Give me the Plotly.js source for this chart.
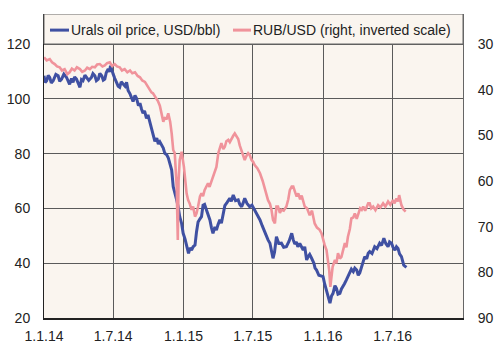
<!DOCTYPE html>
<html>
<head>
<meta charset="utf-8">
<script src="https://cdn.plot.ly/plotly-3.0.1.min.js"></script>
<style>
  html, body { margin: 0; padding: 0; background: #ffffff; }
  #chart { width: 504px; height: 355px; }
</style>
</head>
<body>
<div id="chart"></div>
<script>
// ---- Data ----
const oilDates = [
  '2014-01-01','2014-01-04','2014-01-08','2014-01-12','2014-01-16','2014-01-20','2014-01-25','2014-02-01',
  '2014-02-07','2014-02-11','2014-02-16','2014-02-22','2014-03-01','2014-03-09','2014-03-14','2014-03-18',
  '2014-03-22','2014-03-27','2014-04-01','2014-04-05','2014-04-09','2014-04-13','2014-04-18','2014-04-22',
  '2014-04-28','2014-05-05','2014-05-09','2014-05-14','2014-05-18','2014-05-23','2014-05-27','2014-06-01',
  '2014-06-05','2014-06-09','2014-06-13','2014-06-18','2014-06-21','2014-06-24','2014-06-27','2014-07-01',
  '2014-07-05','2014-07-10','2014-07-14','2014-07-18','2014-07-22','2014-07-27','2014-08-01','2014-08-05',
  '2014-08-09','2014-08-14','2014-08-18','2014-08-22','2014-08-27','2014-08-31','2014-09-05','2014-09-09',
  '2014-09-13','2014-09-17','2014-09-21','2014-09-26','2014-09-30','2014-10-04','2014-10-09','2014-10-14',
  '2014-10-18','2014-10-23','2014-10-27','2014-10-31','2014-11-04','2014-11-09','2014-11-13','2014-11-18',
  '2014-11-22','2014-11-26','2014-12-01','2014-12-05','2014-12-09','2014-12-14','2014-12-18','2014-12-22',
  '2014-12-27','2014-12-31','2015-01-05','2015-01-09','2015-01-14','2015-01-18','2015-01-22','2015-01-26',
  '2015-01-31','2015-02-04','2015-02-08','2015-02-13','2015-02-17','2015-02-21','2015-02-25','2015-03-02',
  '2015-03-06','2015-03-11','2015-03-15','2015-03-19','2015-03-24','2015-03-28','2015-04-01','2015-04-06',
  '2015-04-10','2015-04-15','2015-04-19','2015-04-25','2015-05-02','2015-05-06','2015-05-11','2015-05-17',
  '2015-05-24','2015-05-28','2015-06-02','2015-06-06','2015-06-10','2015-06-16','2015-06-23','2015-06-29',
  '2015-07-06','2015-07-13','2015-07-20','2015-07-26','2015-08-02','2015-08-06','2015-08-10','2015-08-15',
  '2015-08-19','2015-08-23','2015-08-27','2015-09-01','2015-09-07','2015-09-14','2015-09-20','2015-09-27',
  '2015-10-04','2015-10-11','2015-10-15','2015-10-19','2015-10-23','2015-10-27','2015-11-01','2015-11-06',
  '2015-11-10','2015-11-14','2015-11-19','2015-11-23','2015-11-27','2015-12-02','2015-12-08','2015-12-11',
  '2015-12-15','2015-12-21','2015-12-28','2016-01-01','2016-01-05','2016-01-10','2016-01-14','2016-01-19',
  '2016-01-23','2016-01-27','2016-02-01','2016-02-05','2016-02-09','2016-02-14','2016-02-18','2016-02-22',
  '2016-02-26','2016-03-02','2016-03-06','2016-03-11','2016-03-15','2016-03-20','2016-03-24','2016-03-29',
  '2016-04-02','2016-04-06','2016-04-11','2016-04-15','2016-04-19','2016-04-24','2016-04-28','2016-05-02',
  '2016-05-08','2016-05-15','2016-05-21','2016-05-28','2016-06-02','2016-06-08','2016-06-13','2016-06-19',
  '2016-06-23','2016-06-28','2016-07-02','2016-07-07','2016-07-11','2016-07-15','2016-07-19','2016-07-24',
  '2016-07-30','2016-08-06'
];
const oilPrice = [
  108.4,106.0,106.6,108.5,107.8,105.8,106.6,108.9,
  108.4,106.4,107.2,109.0,107.8,105.3,107.4,106.0,
  108.0,107.2,105.5,104.2,107.0,106.6,108.6,107.8,
  106.7,107.8,109.2,108.4,106.6,107.2,109.3,108.4,
  106.8,107.2,109.6,110.9,109.8,112.1,110.5,109.0,
  107.5,106.0,104.6,104.2,106.2,105.4,104.6,106.0,
  103.0,101.8,100.0,99.0,101.2,100.2,97.5,98.4,
  96.3,94.7,95.6,92.9,94.1,91.8,89.8,87.0,
  84.5,85.6,83.5,84.3,83.2,82.0,80.1,79.6,
  78.5,76.5,74.0,67.9,66.0,63.1,60.5,57.0,
  54.5,50.9,48.8,46.5,43.6,45.6,44.8,46.0,
  46.6,51.5,55.0,56.2,57.0,61.2,61.5,59.4,
  57.8,55.8,53.0,50.9,53.2,52.1,54.0,55.8,
  54.6,58.5,61.0,62.2,63.7,62.6,64.9,62.8,
  63.1,61.5,60.6,62.0,63.7,61.8,60.6,61.2,
  59.4,57.9,55.8,53.6,50.9,49.5,48.5,47.3,
  44.5,41.8,44.0,49.7,47.2,47.3,45.8,46.0,
  48.0,50.9,48.5,47.0,47.8,46.0,47.2,46.0,
  44.8,46.0,41.2,42.4,43.2,41.8,40.0,38.2,
  37.5,35.6,35.1,35.1,32.5,29.6,28.0,25.4,
  28.0,29.0,31.8,30.8,28.7,29.0,30.6,31.4,
  32.5,33.9,35.2,36.3,37.8,36.9,38.2,37.5,
  35.6,36.5,39.0,41.2,42.4,41.6,43.6,44.2,
  43.5,46.0,45.3,47.3,46.5,49.1,47.2,46.0,
  47.8,47.3,45.8,44.8,46.0,45.4,43.4,42.4,
  39.3,38.5
];

const rubDates = [
  '2014-01-01','2014-01-08','2014-01-16','2014-01-22','2014-01-29','2014-02-04','2014-02-11','2014-02-17',
  '2014-02-24','2014-03-03','2014-03-09','2014-03-15','2014-03-22','2014-03-28','2014-04-05','2014-04-11',
  '2014-04-18','2014-04-24','2014-05-01','2014-05-07','2014-05-14','2014-05-20','2014-05-27','2014-06-03',
  '2014-06-09','2014-06-15','2014-06-22','2014-06-28','2014-07-05','2014-07-11','2014-07-18','2014-07-24',
  '2014-07-31','2014-08-07','2014-08-14','2014-08-20','2014-08-27','2014-09-03','2014-09-09','2014-09-15',
  '2014-09-22','2014-09-28','2014-10-05','2014-10-09','2014-10-13','2014-10-17','2014-10-22','2014-10-26',
  '2014-10-31','2014-11-04','2014-11-09','2014-11-13','2014-11-18','2014-11-22','2014-11-27','2014-12-01',
  '2014-12-05','2014-12-09','2014-12-14','2014-12-17','2014-12-19','2014-12-22','2014-12-27','2015-01-02',
  '2015-01-06','2015-01-09','2015-01-13','2015-01-17','2015-01-22','2015-01-26','2015-01-31','2015-02-04',
  '2015-02-08','2015-02-13','2015-02-17','2015-02-21','2015-02-25','2015-03-02','2015-03-06','2015-03-10',
  '2015-03-15','2015-03-20','2015-03-24','2015-03-28','2015-04-02','2015-04-06','2015-04-10','2015-04-15',
  '2015-04-19','2015-04-23','2015-04-28','2015-05-02','2015-05-07','2015-05-11','2015-05-15','2015-05-20',
  '2015-05-24','2015-05-28','2015-06-02','2015-06-06','2015-06-10','2015-06-14','2015-06-19','2015-06-23',
  '2015-06-28','2015-07-02','2015-07-06','2015-07-13','2015-07-20','2015-07-27','2015-08-02','2015-08-06',
  '2015-08-10','2015-08-15','2015-08-19','2015-08-23','2015-08-28','2015-09-01','2015-09-05','2015-09-10',
  '2015-09-14','2015-09-20','2015-09-27','2015-10-02','2015-10-06','2015-10-11','2015-10-15','2015-10-20',
  '2015-10-24','2015-10-28','2015-11-02','2015-11-06','2015-11-10','2015-11-14','2015-11-20','2015-11-27',
  '2015-12-03','2015-12-10','2015-12-16','2015-12-23','2015-12-28','2016-01-01','2016-01-05','2016-01-10',
  '2016-01-14','2016-01-17','2016-01-20','2016-01-23','2016-01-26','2016-02-01','2016-02-05','2016-02-09',
  '2016-02-14','2016-02-18','2016-02-23','2016-02-27','2016-03-02','2016-03-06','2016-03-11','2016-03-15',
  '2016-03-20','2016-03-24','2016-03-29','2016-04-02','2016-04-07','2016-04-11','2016-04-15','2016-04-20',
  '2016-04-24','2016-04-28','2016-05-02','2016-05-06','2016-05-11','2016-05-17','2016-05-24','2016-05-30',
  '2016-06-06','2016-06-12','2016-06-19','2016-06-25','2016-07-02','2016-07-06','2016-07-11','2016-07-15',
  '2016-07-18','2016-07-24','2016-07-30','2016-08-04'
];
const rubUsd = [
  32.9,33.6,33.3,34.0,34.4,34.9,35.1,35.8,
  35.5,36.6,36.2,35.4,35.8,35.1,35.5,36.1,
  35.8,35.2,35.5,35.0,35.1,34.5,34.4,34.9,
  34.7,34.2,34.0,34.8,34.4,34.9,35.1,35.8,
  35.5,36.2,35.8,36.4,36.2,37.0,37.3,38.0,
  38.3,39.2,40.1,40.6,40.8,41.3,41.8,42.5,
  43.5,44.8,47.0,46.2,46.3,45.2,47.0,49.6,
  53.2,53.9,61.2,72.9,60.0,55.4,53.6,56.9,
  60.5,62.7,64.2,64.9,66.3,65.6,67.8,67.1,
  65.6,63.4,62.7,63.3,62.0,61.2,60.5,61.3,
  60.0,58.5,57.6,56.9,53.9,52.8,51.7,53.0,
  52.5,51.3,51.0,51.5,50.5,50.1,49.6,50.2,
  50.8,52.2,53.5,54.8,55.4,54.6,53.9,54.3,
  55.4,55.8,56.5,57.2,58.3,60.0,62.0,63.2,
  64.2,65.0,66.3,68.5,69.3,65.6,65.6,67.0,
  66.3,66.5,65.6,64.0,62.0,61.2,61.2,62.5,
  63.4,62.7,64.0,63.2,64.5,65.6,66.0,67.5,
  66.5,69.3,70.2,70.7,71.5,72.9,74.0,75.1,
  77.5,79.5,83.2,80.5,78.8,77.3,78.0,75.8,
  77.0,76.6,75.0,73.6,74.5,72.2,70.5,68.2,
  68.0,67.1,68.3,67.4,66.0,66.3,65.6,66.5,
  65.6,64.9,64.9,66.0,65.6,66.4,65.3,65.8,
  64.9,65.6,64.5,65.2,64.2,64.9,63.8,64.5,
  63.1,65.3,66.3,66.7
];

const xTickVals = ['2014-01-01','2014-07-01','2015-01-01','2015-07-01','2016-01-01','2016-07-01','2017-01-01'];
const xTickText = ['1.1.14','1.7.14','1.1.15','1.7.15','1.1.16','1.7.16',''];
const leftTicks = [20, 40, 60, 80, 100, 120];
const rightTicks = [30, 40, 50, 60, 70, 80, 90];

const seriesNames = ['Urals oil price, USD/bbl)', 'RUB/USD (right, inverted scale)'];
const seriesColors = ['#3f50a2', '#f0939b'];

// ---- Styling / layout ----
const FONT = 'Liberation Sans, Arial, sans-serif';
const BG = '#faf5ef';
const GRID = '#5a5a5a';
const yTop = 20 + 100 * 304 / 274;         // range top so 120 sits at legend box bottom
const y2Top = 90 - 60 * 304 / 274;         // same for the inverted right axis

const traces = [
  {
    x: oilDates, y: oilPrice, name: seriesNames[0], type: 'scatter', mode: 'lines',
    line: { color: seriesColors[0], width: 3 }, yaxis: 'y'
  },
  {
    x: rubDates, y: rubUsd, name: seriesNames[1], type: 'scatter', mode: 'lines',
    line: { color: seriesColors[1], width: 2.6 }, yaxis: 'y2'
  }
];

// legend box drawn by hand (short line samples, text as annotations)
const legY = 0.947;
const px = v => (v - 44) / 419;

const layout = {
  width: 504, height: 355,
  margin: { l: 44, r: 41, t: 14, b: 37, pad: 0 },
  paper_bgcolor: '#ffffff',
  plot_bgcolor: BG,
  font: { family: FONT, size: 14, color: '#222222' },
  showlegend: false,
  xaxis: {
    type: 'date',
    range: ['2014-01-01', '2017-01-01'],
    tickmode: 'array', tickvals: xTickVals, ticktext: xTickText,
    showgrid: true, gridcolor: GRID, gridwidth: 1,
    ticks: 'outside', ticklen: 4, tickcolor: 'rgba(0,0,0,0)',
    showline: true, linecolor: '#222222', linewidth: 2, mirror: false,
    zeroline: false, fixedrange: true,
    tickfont: { family: FONT, size: 14, color: '#222222' }
  },
  yaxis: {
    range: [20, yTop],
    tickmode: 'array', tickvals: leftTicks,
    showgrid: true, gridcolor: GRID, gridwidth: 1,
    ticks: 'outside', ticklen: 10, tickcolor: 'rgba(0,0,0,0)',
    showline: true, linecolor: '#222222', linewidth: 1,
    zeroline: false, fixedrange: true,
    tickfont: { family: FONT, size: 14, color: '#222222' }
  },
  yaxis2: {
    overlaying: 'y', side: 'right',
    range: [90, y2Top],
    tickmode: 'array', tickvals: rightTicks,
    showgrid: false,
    ticks: 'outside', ticklen: 11, tickcolor: 'rgba(0,0,0,0)',
    showline: true, linecolor: '#666666', linewidth: 1,
    zeroline: false, fixedrange: true,
    tickfont: { family: FONT, size: 14, color: '#222222' }
  },
  shapes: [
    {
      type: 'rect', xref: 'paper', yref: 'y', x0: 0, x1: 1, y0: 120, y1: yTop,
      fillcolor: BG, line: { color: '#666666', width: 1 }, layer: 'above'
    },
    {
      type: 'line', xref: 'paper', yref: 'paper', x0: px(50), x1: px(69), y0: legY, y1: legY,
      line: { color: seriesColors[0], width: 3 }, layer: 'above'
    },
    {
      type: 'line', xref: 'paper', yref: 'paper', x0: px(233), x1: px(251), y0: legY, y1: legY,
      line: { color: seriesColors[1], width: 3 }, layer: 'above'
    }
  ],
  annotations: [
    {
      xref: 'paper', yref: 'paper', x: px(70), y: legY, xanchor: 'left', yanchor: 'middle',
      text: seriesNames[0], showarrow: false, borderpad: 0,
      font: { family: FONT, size: 14, color: '#222222' }
    },
    {
      xref: 'paper', yref: 'paper', x: px(252), y: legY, xanchor: 'left', yanchor: 'middle',
      text: seriesNames[1], showarrow: false, borderpad: 0,
      font: { family: FONT, size: 14, color: '#222222' }
    }
  ]
};

Plotly.newPlot('chart', traces, layout, { staticPlot: true, displayModeBar: false });
</script>
</body>
</html>
